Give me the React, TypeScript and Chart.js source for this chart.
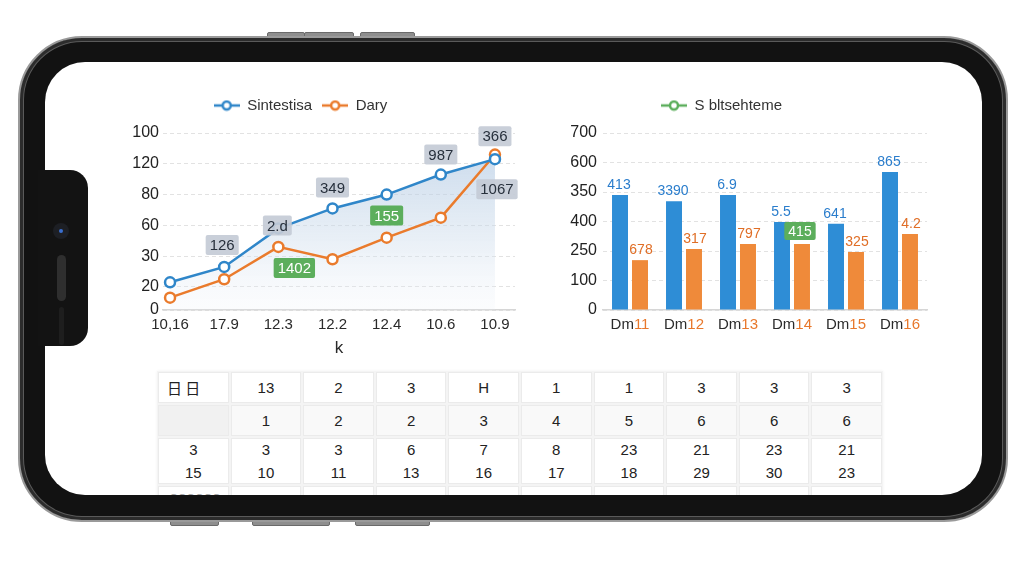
import React, { useEffect, useRef } from "react";
import { Chart, registerables } from "chart.js";

Chart.register(...registerables);

// ---------------- data ----------------
const lineCategories = ["10,16", "17.9", "12.3", "12.2", "12.4", "10.6", "10.9"];
const lineSeriesNames = ["Sintestisa", "Dary"];
const sintestisaValues = [18, 28, 53, 66, 75, 88, 98];
const daryValues = [8, 20, 41, 33, 47, 60, 101];
const lineTickValues = [0, 15, 35, 55, 75, 95, 115];
const lineTickLabels = ["0", "20", "30", "60", "80", "120", "100"];
const lineAxisTitle = "k";
const lineTagTexts = ["126", "2.d", "349", "987", "366", "1067", "1402", "155"];

const barCategories = ["Dm11", "Dm12", "Dm13", "Dm14", "Dm15", "Dm16"];
const barLegendName = "S bltsehteme";
const barBlueValues = [390, 369, 390, 298, 292, 468];
const barOrangeValues = [169, 207, 224, 224, 197, 258];
const barBlueTexts = ["413", "3390", "6.9", "5.5", "641", "865"];
const barOrangeTexts = ["678", "317", "797", "415", "325", "4.2"];
const barTickLabels = ["0", "100", "250", "400", "350", "600", "700"];
const barHighlightIndex = 3;

const tableRow1 = ["日 日", "13", "2", "3", "H", "1", "1", "3", "3", "3"];
const tableRow2 = ["", "1", "2", "2", "3", "4", "5", "6", "6", "6"];
const tableRow3a = ["3", "3", "3", "6", "7", "8", "23", "21", "23", "21"];
const tableRow3b = ["15", "10", "11", "13", "16", "17", "18", "29", "30", "23"];
const tableRow4 = ["·ΘΘΘΘΘΘ", "", "", "", "", "", "", "", "", ""];

// ---------------- styles ----------------
const FONT = "'Liberation Sans', Arial, 'DejaVu Sans', sans-serif";
const BLUE = "#2f86c9";
const ORANGE = "#ea7b2c";
const GREEN = "#5cae5c";
const BAR_BLUE = "#2e8dd6";
const BAR_ORANGE = "#ef8a3a";

// tag placement (style offsets relative to the data point)
const lineTagPlacement = [
  { s: 0, i: 1, dx: -2, dy: -22, kind: "gray" },
  { s: 0, i: 2, dx: -1, dy: -3, kind: "gray" },
  { s: 0, i: 3, dx: 0, dy: -21, kind: "gray" },
  { s: 0, i: 5, dx: 0, dy: -20, kind: "gray" },
  { s: 0, i: 6, dx: 0, dy: -23, kind: "gray" },
  { s: 0, i: 6, dx: 2, dy: 30, kind: "gray" },
  { s: 1, i: 2, dx: 16, dy: 21, kind: "green" },
  { s: 0, i: 4, dx: 0, dy: 21, kind: "green" },
];

function makeIcon(color: string) {
  const c = document.createElement("canvas");
  c.width = 26;
  c.height = 12;
  const ctx = c.getContext("2d")!;
  ctx.strokeStyle = color;
  ctx.lineWidth = 2.5;
  ctx.beginPath();
  ctx.moveTo(0, 6);
  ctx.lineTo(26, 6);
  ctx.stroke();
  ctx.beginPath();
  ctx.arc(13, 6, 4, 0, Math.PI * 2);
  ctx.fillStyle = "#fff";
  ctx.fill();
  ctx.stroke();
  return c;
}

function roundRect(ctx: CanvasRenderingContext2D, x: number, y: number, w: number, h: number, r: number) {
  ctx.beginPath();
  ctx.moveTo(x + r, y);
  ctx.lineTo(x + w - r, y);
  ctx.quadraticCurveTo(x + w, y, x + w, y + r);
  ctx.lineTo(x + w, y + h - r);
  ctx.quadraticCurveTo(x + w, y + h, x + w - r, y + h);
  ctx.lineTo(x + r, y + h);
  ctx.quadraticCurveTo(x, y + h, x, y + h - r);
  ctx.lineTo(x, y + r);
  ctx.quadraticCurveTo(x, y, x + r, y);
  ctx.closePath();
}

const legendShift = {
  id: "legendShift",
  afterLayout(chart: any, _a: any, opts: any) {
    const lg = chart.legend;
    if (!lg) return;
    lg.left += opts.dx || 0;
    lg.right += opts.dx || 0;
    lg.top += opts.dy || 0;
    lg.bottom += opts.dy || 0;
  },
};

const lineTagsPlugin = {
  id: "lineTags",
  afterDatasetsDraw(chart: any) {
    const ctx = chart.ctx as CanvasRenderingContext2D;
    ctx.save();
    ctx.font = `15px ${FONT}`;
    ctx.textAlign = "center";
    ctx.textBaseline = "middle";
    lineTagPlacement.forEach((p, k) => {
      const el = chart.getDatasetMeta(p.s).data[p.i];
      if (!el) return;
      const text = lineTagTexts[k];
      const x = el.x + p.dx;
      const y = el.y + p.dy;
      const w = ctx.measureText(text).width + 8;
      const h = 20;
      ctx.fillStyle = p.kind === "green" ? GREEN : "rgba(196,203,214,0.92)";
      roundRect(ctx, x - w / 2, y - h / 2, w, h, 2);
      ctx.fill();
      ctx.fillStyle = p.kind === "green" ? "#ffffff" : "#27303c";
      ctx.fillText(text, x, y + 1);
    });
    ctx.restore();
  },
};

const barTextPlugin = {
  id: "barTexts",
  afterDatasetsDraw(chart: any) {
    const ctx = chart.ctx as CanvasRenderingContext2D;
    ctx.save();
    ctx.font = `14px ${FONT}`;
    ctx.textAlign = "center";
    ctx.textBaseline = "middle";
    chart.getDatasetMeta(0).data.forEach((el: any, i: number) => {
      ctx.fillStyle = "#2a7dcc";
      ctx.fillText(barBlueTexts[i], el.x - 1, el.y - 10);
    });
    chart.getDatasetMeta(1).data.forEach((el: any, i: number) => {
      const t = barOrangeTexts[i];
      if (i === barHighlightIndex) {
        const w = ctx.measureText(t).width + 8;
        ctx.fillStyle = GREEN;
        roundRect(ctx, el.x - 2 - w / 2, el.y - 22, w, 18, 2);
        ctx.fill();
        ctx.fillStyle = "#ffffff";
        ctx.fillText(t, el.x - 2, el.y - 12);
      } else {
        ctx.fillStyle = "#e06e26";
        ctx.fillText(t, el.x + 1, el.y - 10);
      }
    });
    ctx.restore();
  },
};

const barXLabelPlugin = {
  id: "barXLabels",
  afterDraw(chart: any) {
    const ctx = chart.ctx as CanvasRenderingContext2D;
    const xs = chart.scales.x;
    const y = chart.chartArea.bottom + 15;
    ctx.save();
    ctx.font = `15px ${FONT}`;
    ctx.textBaseline = "middle";
    ctx.textAlign = "left";
    barCategories.forEach((lab, i) => {
      const m = lab.match(/^(\D+)(\d+)$/);
      const pre = m ? m[1] : lab;
      const num = m ? m[2] : "";
      const w1 = ctx.measureText(pre).width;
      const w2 = ctx.measureText(num).width;
      const x0 = xs.getPixelForValue(i) - (w1 + w2) / 2;
      ctx.fillStyle = "#2b2b2b";
      ctx.fillText(pre, x0, y);
      ctx.fillStyle = "#e8782c";
      ctx.fillText(num, x0 + w1, y);
    });
    ctx.restore();
  },
};

function LineChart() {
  const ref = useRef<HTMLCanvasElement>(null);
  useEffect(() => {
    const icons = [makeIcon(BLUE), makeIcon(ORANGE)];
    const chart = new Chart(ref.current!, {
      type: "line",
      data: {
        datasets: [
          {
            label: lineSeriesNames[0],
            data: sintestisaValues.map((v, i) => ({ x: i, y: v })),
            borderColor: BLUE,
            borderWidth: 2.5,
            pointRadius: 5,
            pointBorderWidth: 2.5,
            pointBackgroundColor: "#ffffff",
            pointBorderColor: BLUE,
            tension: 0,
            fill: "origin",
            backgroundColor: (c: any) => {
              const a = c.chart.chartArea;
              if (!a) return "rgba(200,215,232,0.4)";
              const g = c.chart.ctx.createLinearGradient(0, a.top, 0, a.bottom);
              g.addColorStop(0, "rgba(170,196,224,0.7)");
              g.addColorStop(0.6, "rgba(205,220,236,0.45)");
              g.addColorStop(1, "rgba(232,238,246,0.15)");
              return g;
            },
          },
          {
            label: lineSeriesNames[1],
            data: daryValues.map((v, i) => ({ x: i, y: v })),
            borderColor: ORANGE,
            borderWidth: 2.5,
            pointRadius: 5,
            pointBorderWidth: 2.5,
            pointBackgroundColor: "#ffffff",
            pointBorderColor: ORANGE,
            tension: 0,
            fill: false,
          },
        ],
      },
      options: {
        animation: false,
        responsive: false,
        layout: { padding: { top: 10, left: 0, right: 17, bottom: 4 } },
        plugins: {
          filler: { drawTime: "beforeDatasetsDraw" },
          tooltip: { enabled: false },
          legend: {
            labels: {
              usePointStyle: true,
              pointStyleWidth: 26,
              boxHeight: 12,
              padding: 10,
              color: "#333",
              font: { size: 15, family: FONT },
              generateLabels: (ch: any) =>
                ch.data.datasets.map((ds: any, i: number) => ({
                  text: ds.label,
                  pointStyle: icons[i],
                  fillStyle: "#fff",
                  strokeStyle: ds.borderColor,
                  lineWidth: 0,
                  fontColor: "#333",
                  hidden: false,
                  datasetIndex: i,
                })),
            },
          },
          legendShift: { dx: -21, dy: -10 },
        } as any,
        scales: {
          x: {
            type: "linear",
            min: -0.13,
            max: 6.37,
            afterBuildTicks: (axis: any) => {
              axis.ticks = lineCategories.map((_, i) => ({ value: i }));
            },
            ticks: {
              autoSkip: false,
              maxRotation: 0,
              padding: 6,
              color: "#2a2a2a",
              font: { size: 15, family: FONT },
              callback: (v: any) => lineCategories[v] ?? "",
            },
            grid: { display: false, drawTicks: false },
            border: { display: true, color: "#d6d6d6", width: 1.5 },
            title: {
              display: true,
              text: lineAxisTitle,
              color: "#2a2a2a",
              font: { size: 17, family: FONT, lineHeight: 1 },
              padding: { top: 0, bottom: 0 },
            },
          },
          y: {
            min: 0,
            max: 115,
            afterBuildTicks: (axis: any) => {
              axis.ticks = lineTickValues.map((v) => ({ value: v }));
            },
            afterFit: (s: any) => {
              s.width = 35;
            },
            ticks: {
              padding: 4,
              color: "#222",
              font: { size: 16, family: FONT },
              callback: (v: any) => lineTickLabels[lineTickValues.indexOf(v)] ?? "",
            },
            grid: { color: "#e2e2e2", drawTicks: false },
            border: { display: false, dash: [4, 3] },
          },
        },
      },
      plugins: [legendShift, lineTagsPlugin],
    } as any);
    return () => chart.destroy();
  }, []);
  return (
    <canvas
      ref={ref}
      width={404}
      height={273}
      style={{ position: "absolute", left: 83, top: 26, width: 404, height: 273 }}
    />
  );
}

function BarChart() {
  const ref = useRef<HTMLCanvasElement>(null);
  useEffect(() => {
    const icon = makeIcon(GREEN);
    const chart = new Chart(ref.current!, {
      type: "bar",
      data: {
        labels: barCategories,
        datasets: [
          {
            label: barLegendName,
            data: barBlueValues,
            backgroundColor: BAR_BLUE,
            categoryPercentage: 0.74,
            barPercentage: 0.8,
          },
          {
            label: barLegendName,
            data: barOrangeValues,
            backgroundColor: BAR_ORANGE,
            categoryPercentage: 0.74,
            barPercentage: 0.8,
          },
        ],
      },
      options: {
        animation: false,
        responsive: false,
        layout: { padding: { top: 10, left: 0, right: 13, bottom: 6 } },
        plugins: {
          tooltip: { enabled: false },
          legend: {
            labels: {
              usePointStyle: true,
              pointStyleWidth: 26,
              boxHeight: 12,
              padding: 10,
              color: "#333",
              font: { size: 15, family: FONT },
              generateLabels: () => [
                {
                  text: barLegendName,
                  pointStyle: icon,
                  fillStyle: "#fff",
                  strokeStyle: GREEN,
                  lineWidth: 0,
                  fontColor: "#333",
                  hidden: false,
                  datasetIndex: 0,
                },
              ],
            },
          },
          legendShift: { dx: -16, dy: -10 },
        } as any,
        scales: {
          x: {
            ticks: {
              color: "rgba(0,0,0,0)",
              padding: 6,
              maxRotation: 0,
              font: { size: 15, family: FONT },
            },
            grid: { display: false, drawTicks: false },
            border: { display: true, color: "#d6d6d6", width: 1.5 },
          },
          y: {
            min: 0,
            max: 600,
            afterFit: (s: any) => {
              s.width = 55;
            },
            ticks: {
              stepSize: 100,
              padding: 6,
              color: "#222",
              font: { size: 16, family: FONT },
              callback: (v: any) => barTickLabels[Math.round(v / 100)] ?? "",
            },
            grid: { color: "#e2e2e2", drawTicks: false },
            border: { display: false, dash: [4, 3] },
          },
        },
      },
      plugins: [legendShift, barTextPlugin, barXLabelPlugin],
    } as any);
    return () => chart.destroy();
  }, []);
  return (
    <canvas
      ref={ref}
      width={392}
      height={258}
      style={{ position: "absolute", left: 503, top: 26, width: 392, height: 258 }}
    />
  );
}

function Table() {
  const rowHeights = [31, 31, 46, 24];
  const cell = (content: React.ReactNode, key: string, extra: React.CSSProperties = {}) => (
    <div
      key={key}
      style={{
        border: "1px solid #ebebeb",
        background: "#fff",
        display: "flex",
        flexDirection: "column",
        alignItems: "center",
        justifyContent: "center",
        fontFamily: FONT,
        fontSize: 15,
        color: "#222",
        lineHeight: "23px",
        ...extra,
      }}
    >
      {content}
    </div>
  );
  return (
    <div
      style={{
        position: "absolute",
        left: 112,
        top: 309,
        width: 724,
        display: "grid",
        gridTemplateColumns: "repeat(10, 1fr)",
        gridTemplateRows: rowHeights.map((h) => h + "px").join(" "),
        gap: 2,
        boxShadow: "0 0 3px rgba(0,0,0,0.06)",
        background: "#f4f4f4",
        padding: 1,
      }}
    >
      {tableRow1.map((t, i) =>
        cell(t, "a" + i, i === 0 ? { alignItems: "flex-start", paddingLeft: 8, fontFamily: "'Noto Sans CJK SC', " + FONT } : {})
      )}
      {tableRow2.map((t, i) => cell(t, "b" + i, { background: i === 0 ? "#f1f1f1" : "#f9f9f9" }))}
      {tableRow3a.map((t, i) =>
        cell(
          <>
            <span>{t}</span>
            <span>{tableRow3b[i]}</span>
          </>,
          "c" + i
        )
      )}
      {tableRow4.map((t, i) => cell(t, "d" + i, { color: "#999", fontSize: 11, justifyContent: "flex-start" }))}
    </div>
  );
}

export default function App() {
  const btn = (left: number, top: number, width: number, key: string) => (
    <div
      key={key}
      style={{
        position: "absolute",
        left,
        top,
        width,
        height: 7,
        background: "#8e8e8e",
        border: "1px solid #6a6a6a",
        borderRadius: 2,
        zIndex: 0,
      }}
    />
  );
  return (
    <div
      style={{
        position: "fixed",
        left: 0,
        top: 0,
        width: 1024,
        height: 576,
        background: "#ffffff",
        overflow: "hidden",
      }}
    >
      {btn(267, 32, 36, "t1")}
      {btn(304, 32, 48, "t2")}
      {btn(360, 32, 53, "t3")}
      {btn(170, 517, 47, "b1")}
      {btn(252, 517, 76, "b2")}
      {btn(355, 517, 73, "b3")}
      {/* phone body */}
      <div
        style={{
          position: "absolute",
          left: 18,
          top: 36,
          width: 990,
          height: 486,
          boxSizing: "border-box",
          borderRadius: 64,
          background: "#121212",
          border: "2px solid #9a9a9a",
          boxShadow: "inset 0 0 0 3px #2c2c2c, inset 0 0 0 4px #5a5a5a",
          zIndex: 1,
        }}
      />
      {/* screen */}
      <div
        style={{
          position: "absolute",
          left: 45,
          top: 62,
          width: 937,
          height: 433,
          borderRadius: 40,
          background: "#ffffff",
          overflow: "hidden",
          zIndex: 2,
        }}
      >
        <LineChart />
        <BarChart />
        <Table />
      </div>
      {/* notch */}
      <div
        style={{
          position: "absolute",
          left: 38,
          top: 170,
          width: 50,
          height: 176,
          background: "#131313",
          borderRadius: "0 18px 18px 0",
          zIndex: 3,
        }}
      >
        <div
          style={{
            position: "absolute",
            left: 15,
            top: 53,
            width: 16,
            height: 16,
            borderRadius: 8,
            background: "#1d1f24",
          }}
        >
          <div
            style={{
              position: "absolute",
              left: 6,
              top: 6,
              width: 4,
              height: 4,
              borderRadius: 2,
              background: "#3a6fd0",
            }}
          />
        </div>
        <div
          style={{
            position: "absolute",
            left: 19,
            top: 85,
            width: 9,
            height: 46,
            borderRadius: 5,
            background: "#2f2f2f",
          }}
        />
        <div
          style={{
            position: "absolute",
            left: 21,
            top: 137,
            width: 5,
            height: 38,
            borderRadius: 3,
            background: "#1e1e1e",
          }}
        />
      </div>
    </div>
  );
}
